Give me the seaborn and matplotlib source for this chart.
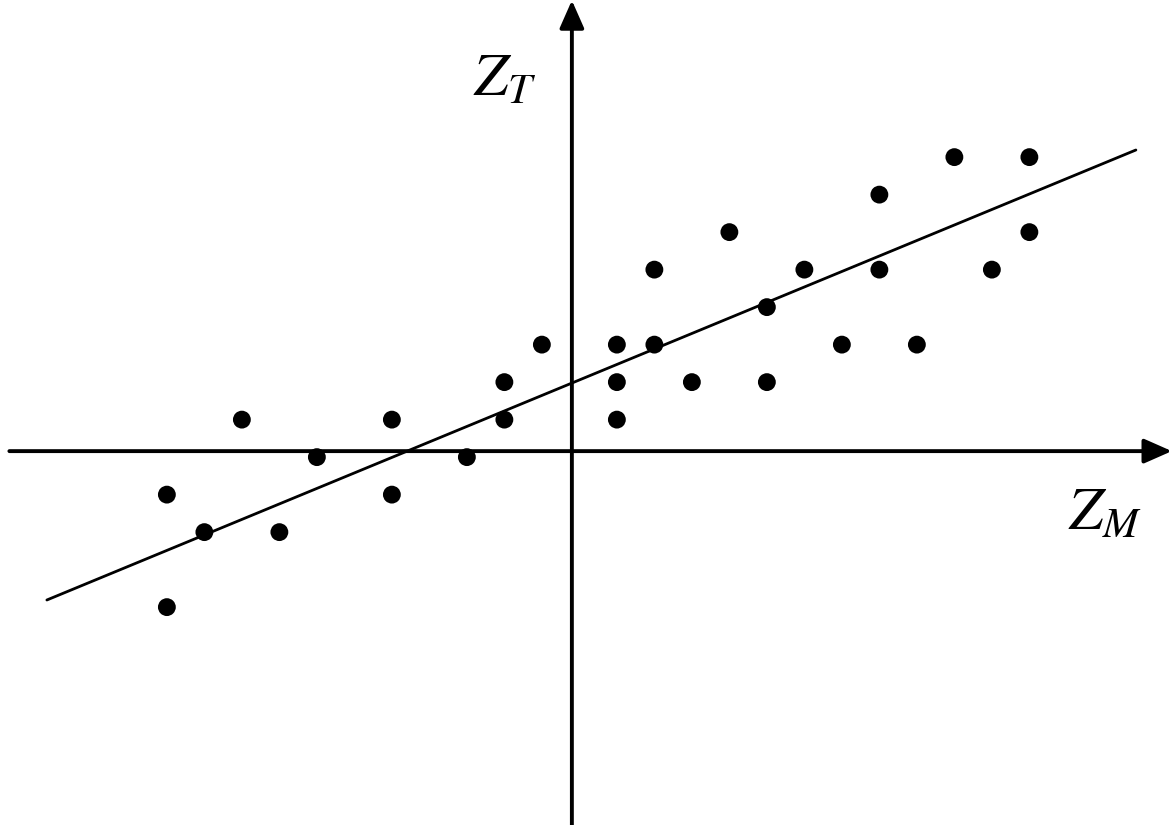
import matplotlib
matplotlib.use("Agg")
import matplotlib.pyplot as plt
import seaborn as sns
import pandas as pd

# Data (standardised scores)
z_m = [-10.8, -10.8, -9.8, -8.8, -7.8, -6.8, -4.8, -4.8, -2.8, -1.8,
       -1.8, -0.8, 1.2, 1.2, 1.2, 2.2, 2.2, 3.2, 4.2, 5.2,
       5.2, 6.2, 7.2, 8.2, 8.2, 9.2, 10.2, 11.2, 12.2, 12.2]
z_t = [-1.16, -4.16, -2.16, 0.84, -2.16, -0.16, 0.84, -1.16, -0.16, 1.84,
       0.84, 2.84, 2.84, 1.84, 0.84, 4.84, 2.84, 1.84, 5.84, 3.84,
       1.84, 4.84, 2.84, 6.84, 4.84, 2.84, 7.84, 4.84, 7.84, 5.84]
fit_x = [-14.0, 15.04]
fit_y = [-3.97, 8.03]

df = pd.DataFrame({"ZM": z_m, "ZT": z_t})
fit = pd.DataFrame({"x": fit_x, "y": fit_y})

sns.set_style("white")
plt.rcParams["mathtext.fontset"] = "stix"
plt.rcParams["text.color"] = "black"

fig = plt.figure(figsize=(11.76, 8.25), dpi=100)
ax = fig.add_axes([0, 0, 1, 1])
ax.set_xlim(-15.25, 16.11)
ax.set_ylim(-9.97, 12.03)
ax.axis("off")

sns.lineplot(data=fit, x="x", y="y", ax=ax, color="black", linewidth=2.0)
sns.scatterplot(data=df, x="ZM", y="ZT", ax=ax, color="black", s=165,
                edgecolor="none", zorder=3)

arrow = dict(arrowstyle="-|>,head_length=1.7,head_width=0.75", color="black",
             lw=2.8, shrinkA=0, shrinkB=0)
ax.annotate("", xy=(16.0, 0), xytext=(-15.0, 0), arrowprops=arrow)
ax.annotate("", xy=(0, 12.02), xytext=(0, -9.97), arrowprops=arrow)

ax.text(-1.8, 9.9, r"$Z_T$", fontsize=44, ha="center", va="center",
        color="black")
ax.text(14.2, -1.65, r"$Z_M$", fontsize=44, ha="center", va="center",
        color="black")

fig.savefig("out.png", dpi=100)
